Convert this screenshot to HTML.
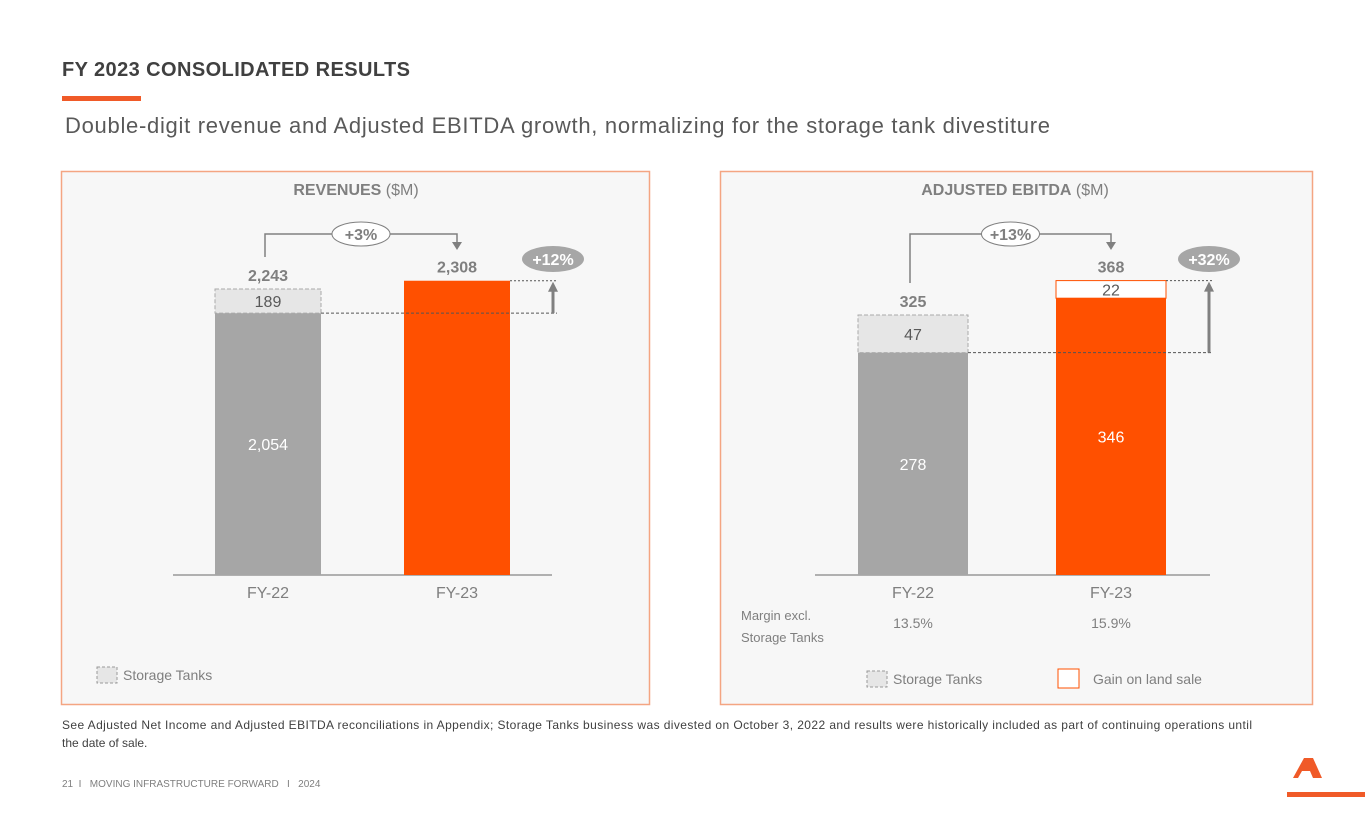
<!DOCTYPE html>
<html><head><meta charset="utf-8"><style>
body{margin:0;width:1365px;height:829px;background:#fff;overflow:hidden;font-family:"Liberation Sans",sans-serif}
svg text{font-family:"Liberation Sans",sans-serif}
</style></head><body>
<svg id="s" width="1365" height="829" xmlns="http://www.w3.org/2000/svg">
<text x="62" y="76" font-size="20" font-weight="bold" fill="#404040" textLength="348">FY 2023 CONSOLIDATED RESULTS</text>
<rect x="62" y="96" width="79" height="5" fill="#f05a28"/>
<text x="65" y="133" font-size="22" fill="#595959" textLength="985">Double-digit revenue and Adjusted EBITDA growth, normalizing for the storage tank divestiture</text>
<rect x="61.5" y="171.5" width="588" height="533" fill="#f7f7f7" stroke="#f4a582" stroke-width="1.5"/>
<rect x="720.5" y="171.5" width="592" height="533" fill="#f7f7f7" stroke="#f4a582" stroke-width="1.5"/>
<text x="356" y="195" text-anchor="middle" font-size="16" fill="#7f7f7f"><tspan font-weight="bold">REVENUES</tspan> ($M)</text>
<text x="1015" y="195" text-anchor="middle" font-size="16" fill="#7f7f7f"><tspan font-weight="bold">ADJUSTED EBITDA</tspan> ($M)</text>
<g id="rev"></g><g id="ebi"></g>
<text x="741" y="620" font-size="13" fill="#7f7f7f">Margin excl.</text>
<text x="741" y="642" font-size="13" fill="#7f7f7f">Storage Tanks</text>
<text x="913" y="628" text-anchor="middle" font-size="14" fill="#7f7f7f">13.5%</text>
<text x="1111" y="628" text-anchor="middle" font-size="14" fill="#7f7f7f">15.9%</text>
<rect x="97" y="667" width="20" height="16" fill="#e6e6e6" stroke="#999" stroke-dasharray="3,2"/>
<text x="123" y="680" font-size="14" fill="#7f7f7f">Storage Tanks</text>
<rect x="867" y="671" width="20" height="16" fill="#e6e6e6" stroke="#999" stroke-dasharray="3,2"/>
<text x="893" y="684" font-size="14" fill="#7f7f7f">Storage Tanks</text>
<rect x="1058" y="669" width="21" height="19" fill="#fff" stroke="#ff5000"/>
<text x="1093" y="684" font-size="14" fill="#7f7f7f">Gain on land sale</text>
<text x="62" y="729" font-size="12" fill="#404040" textLength="1190">See Adjusted Net Income and Adjusted EBITDA reconciliations in Appendix; Storage Tanks business was divested on October 3, 2022 and results were historically included as part of continuing operations until</text>
<text x="62" y="747" font-size="12" fill="#404040">the date of sale.</text>
<text x="62" y="787" font-size="10" fill="#7f7f7f" style="white-space:pre">21  I   MOVING INFRASTRUCTURE FORWARD   I   2024</text>
<polygon points="1293,778 1304,758 1313,758 1322,778 1313,778 1310,771 1302,771 1298,778" fill="#f05a28"/>
<rect x="1287" y="792" width="78" height="5" fill="#f05a28"/>
</svg>
<script>
const NS="http://www.w3.org/2000/svg";
const revCategories=["FY-22","FY-23"];
const revBase=[2054,2308];
const revStorage=[189,0];
const revTotals=[2243,2308];
const ebiCategories=["FY-22","FY-23"];
const ebiBase=[278,346];
const ebiStorage=[47,0];
const ebiGain=[0,22];
const ebiTotals=[325,368];
function el(p,tag,a,txt){const e=document.createElementNS(NS,tag);for(const k in a)e.setAttribute(k,a[k]);if(txt!==undefined)e.textContent=txt;p.appendChild(e);return e;}
function chart(g,cfg){
 const y=v=>575-v*cfg.k;
 const xs=cfg.xs,w=cfg.w;
 const ax=el(g,'line',{x1:cfg.a0,x2:cfg.a1,y1:575,y2:575,stroke:'#999','stroke-width':1.5});
 
 for(let i=0;i<2;i++){
  const b=el(g,'rect',{x:xs[i],y:y(cfg.base[i]),width:w,height:cfg.base[i]*cfg.k,fill:i?'#ff5000':'#a6a6a6'});
  
  if(cfg.inner[i]){
   const lb=el(g,'text',{x:xs[i]+w/2,y:y(cfg.base[i]/2)+6,'text-anchor':'middle','font-size':16,fill:'#fff'},cfg.base[i].toLocaleString('en-US'));
   
  }
  if(cfg.st[i]>0){
   const s=el(g,'rect',{x:xs[i],y:y(cfg.base[i]+cfg.st[i]),width:w,height:cfg.st[i]*cfg.k,fill:'#e6e6e6',stroke:'#aaa','stroke-dasharray':'4,2'});
   
   const t=el(g,'text',{x:xs[i]+w/2,y:y(cfg.base[i]+cfg.st[i]/2)+6,'text-anchor':'middle','font-size':16,fill:'#595959'},cfg.st[i]);
   
  }
  if(cfg.gain&&cfg.gain[i]>0){
   const s=el(g,'rect',{x:xs[i],y:y(cfg.base[i]+cfg.gain[i]),width:w,height:cfg.gain[i]*cfg.k,fill:'#fff',stroke:'#ff5000'});
   
   const t=el(g,'text',{x:xs[i]+w/2,y:y(cfg.base[i]+cfg.gain[i]/2)+6,'text-anchor':'middle','font-size':16,fill:'#595959'},cfg.gain[i]);
   
  }
  const tt=el(g,'text',{x:xs[i]+w/2,y:y(cfg.tot[i])-8,'text-anchor':'middle','font-size':16,'font-weight':'bold',fill:'#7f7f7f'},cfg.tot[i].toLocaleString('en-US'));
  
  const c=el(g,'text',{x:xs[i]+w/2,y:598,'text-anchor':'middle','font-size':16,fill:'#7f7f7f'},cfg.cats[i]);
  
 }
 const yb=y(cfg.base[0]),yt=y(cfg.tot[1]),ax2=xs[1]+w+43;
 let l=el(g,'line',{x1:xs[0]+w,x2:ax2+4,y1:yb,y2:yb,stroke:'#555','stroke-dasharray':'3,2'});
 
 l=el(g,'line',{x1:xs[1]+w,x2:ax2+4,y1:yt,y2:yt,stroke:'#555','stroke-dasharray':'2,2'});
 
 l=el(g,'line',{x1:ax2,x2:ax2,y1:yb,y2:yt+10,stroke:'#808080','stroke-width':3});
 
 el(g,'polygon',{points:`${ax2-5},${yt+11} ${ax2+5},${yt+11} ${ax2},${yt+1}`,fill:'#808080'});
 const e2=el(g,'ellipse',{cx:ax2,cy:259,rx:31,ry:13,fill:'#a6a6a6'});
 
 el(g,'text',{x:ax2,y:265,'text-anchor':'middle','font-size':16,'font-weight':'bold',fill:'#fff'},cfg.g2);
 const x0=xs[0]+w/2-3,x1=xs[1]+w/2;
 const br=el(g,'polyline',{points:`${x0},${y(cfg.tot[0])-32} ${x0},234 ${x1},234 ${x1},244`,fill:'none',stroke:'#808080','stroke-width':1.5});
 
 el(g,'polygon',{points:`${x1-5},242 ${x1+5},242 ${x1},250`,fill:'#808080'});
 const e1=el(g,'ellipse',{cx:(x0+x1)/2,cy:234,rx:29,ry:12,fill:'#fff',stroke:'#808080'});
 
 el(g,'text',{x:(x0+x1)/2,y:240,'text-anchor':'middle','font-size':16,'font-weight':'bold',fill:'#7f7f7f'},cfg.g1);
}
chart(document.getElementById('rev'),{k:0.1275,xs:[215,404],w:106,a0:173,a1:552,cats:revCategories,base:revBase,st:revStorage,tot:revTotals,inner:[true,false],g1:'+3%',g2:'+12%'});
chart(document.getElementById('ebi'),{k:0.8,xs:[858,1056],w:110,a0:815,a1:1210,cats:ebiCategories,base:ebiBase,st:ebiStorage,gain:ebiGain,tot:ebiTotals,inner:[true,true],g1:'+13%',g2:'+32%'});
</script>
</body></html>
